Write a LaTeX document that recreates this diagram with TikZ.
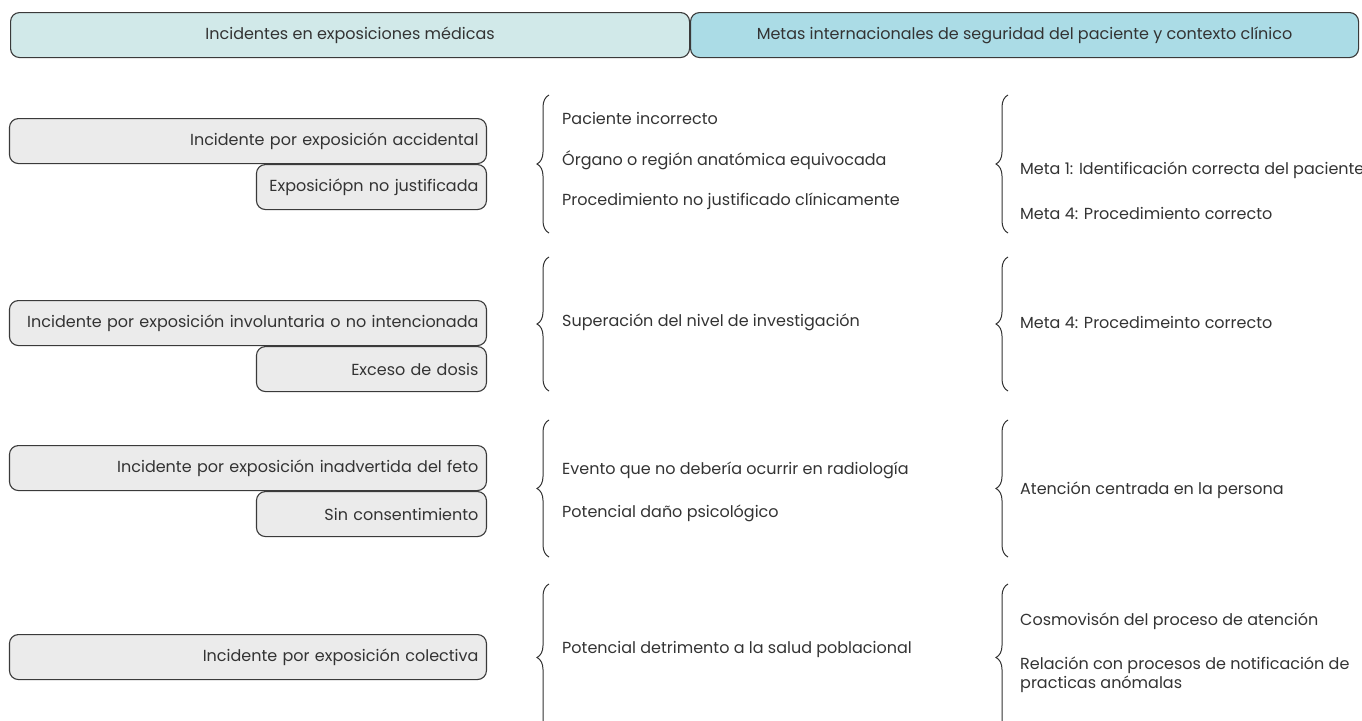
\documentclass[tikz,border=0pt]{standalone}
\usepackage{fontspec}
\setmainfont{Poppins}
\usetikzlibrary{decorations.pathreplacing}
\definecolor{txt}{HTML}{333333}
\definecolor{linec}{HTML}{3A3A3A}
\definecolor{boxgray}{HTML}{EBEBEB}
\definecolor{headA}{HTML}{D1E9E9}
\definecolor{headB}{HTML}{ABDCE6}
\tikzset{
  every node/.style={text=txt, font=\fontsize{16}{19}\selectfont},
  hbox/.style={draw=linec, line width=1.1pt, rounded corners=9pt, minimum height=45pt, inner sep=0pt, anchor=north west},
  lbox/.style={draw=linec, fill=boxgray, line width=1.1pt, rounded corners=9pt, minimum height=45pt, inner xsep=8pt, inner ysep=0pt, text width=#1, align=right, anchor=north east},
  item/.style={anchor=west, inner sep=0pt, align=left},
  bracew/.style={draw=txt, line width=1pt, decorate, decoration={brace, amplitude=12pt}}
}
\begin{document}
\begin{tikzpicture}[x=1pt,y=-1pt]
\useasboundingbox (0,0) rectangle (1362,720);
% headers
\node[hbox, fill=headA, minimum width=679pt] (h1) at (10,12) {Incidentes en exposiciones médicas};
\node[hbox, fill=headB, minimum width=668pt] (h2) at (690,12) {Metas internacionales de seguridad del paciente y contexto clínico};
% row 1
\node[lbox=461pt] (a1) at (487,118) {Incidente por exposición accidental};
\node[lbox=214pt] (a2) at (487,164) {Exposiciópn no justificada};
\coordinate (b1s) at (549,233); \coordinate (b1e) at (549,95);
\draw[bracew] (b1s) -- (b1e);
\node[item] (m11) at (562,118) {Paciente incorrecto};
\node[item] (m12) at (562,160) {Órgano o región anatómica equivocada};
\node[item] (m13) at (562,201) {Procedimiento no justificado clínicamente};
\coordinate (c1s) at (1008,233); \coordinate (c1e) at (1008,95);
\draw[bracew] (c1s) -- (c1e);
\node[item] (r11) at (1020,170) {Meta 1: Identificación correcta del paciente};
\node[item] (r12) at (1020,213) {Meta 4: Procedimiento correcto};
% row 2
\node[lbox=461pt] (a3) at (487,300) {Incidente por exposición involuntaria o no intencionada};
\node[lbox=214pt] (a4) at (487,346) {Exceso de dosis};
\coordinate (b2s) at (549,391); \coordinate (b2e) at (549,257);
\draw[bracew] (b2s) -- (b2e);
\node[item] (m21) at (562,322) {Superación del nivel de investigación};
\coordinate (c2s) at (1008,391); \coordinate (c2e) at (1008,257);
\draw[bracew] (c2s) -- (c2e);
\node[item] (r21) at (1020,322) {Meta 4: Procedimeinto correcto};
% row 3
\node[lbox=461pt] (a5) at (487,445) {Incidente por exposición inadvertida del feto};
\node[lbox=214pt] (a6) at (487,491) {Sin consentimiento};
\coordinate (b3s) at (549,557); \coordinate (b3e) at (549,420);
\draw[bracew] (b3s) -- (b3e);
\node[item] (m31) at (562,470) {Evento que no debería ocurrir en radiología};
\node[item] (m32) at (562,513) {Potencial daño psicológico};
\coordinate (c3s) at (1008,557); \coordinate (c3e) at (1008,420);
\draw[bracew] (c3s) -- (c3e);
\node[item] (r31) at (1020,490) {Atención centrada en la persona};
% row 4
\node[lbox=461pt] (a7) at (487,634) {Incidente por exposición colectiva};
\coordinate (b4s) at (549,731); \coordinate (b4e) at (549,584);
\draw[bracew] (b4s) -- (b4e);
\node[item] (m41) at (562,649) {Potencial detrimento a la salud poblacional};
\coordinate (c4s) at (1008,731); \coordinate (c4e) at (1008,584);
\draw[bracew] (c4s) -- (c4e);
\node[item] (r41) at (1020,621) {Cosmovisón del proceso de atención};
\node[item] (r42) at (1020,675) {Relación con procesos de notificación de\\practicas anómalas};
\end{tikzpicture}
\end{document}
